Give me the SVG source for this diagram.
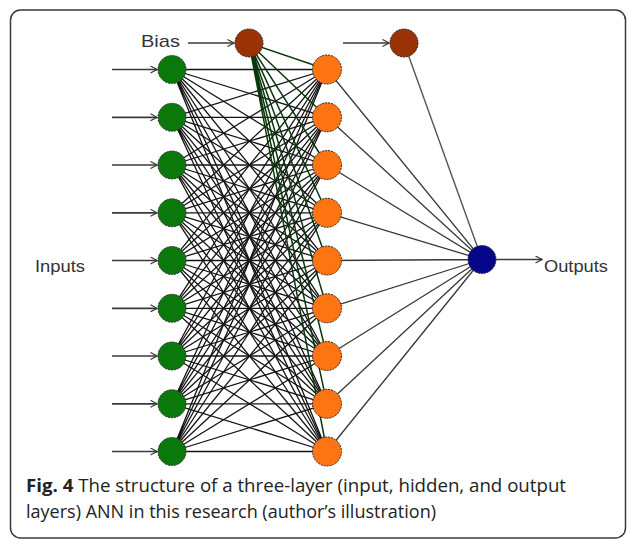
<svg xmlns="http://www.w3.org/2000/svg" width="627" height="539" viewBox="0 0 627 539">
<style>
.frame{fill:#fff;stroke:#3a3a3a;stroke-width:1.5}
.w{fill:none;stroke:#141414;stroke-width:1.3}
.wb{fill:none;stroke:#0a380c;stroke-width:1.5}
.wo{fill:none;stroke:#383838;stroke-width:1.3}
.wb2{fill:none;stroke:#4b5d4b;stroke-width:1.4}
.arr{fill:none;stroke:#3a3a3a;stroke-width:1.7;marker-end:url(#ah)}
.n{stroke:#2a2a2a;stroke-width:1;stroke-dasharray:2 1}
.in{fill:#0b780b}
.hid{fill:#ff7412}
.bias{fill:#9a3206}
.out{fill:#06068a}
.lbl{font-family:"Liberation Sans",Arial,sans-serif;font-size:17px;fill:#333}
.cap{font-family:"Open Sans","Noto Sans",sans-serif;font-size:18px;fill:#222}
</style>
<defs>
<marker id="ah" viewBox="0 0 8 8" refX="7" refY="4" markerWidth="8" markerHeight="8" markerUnits="userSpaceOnUse" orient="auto">
<path d="M0.5,0.5 L7,4 L0.5,7.5" fill="none" stroke="#3a3a3a" stroke-width="1.2"/>
</marker>
</defs>
<rect class="frame" x="10.5" y="10" width="615" height="528" rx="10"/>
<g id="connectors">
<path class="w" d="M172,69.5L327,69.5M172,69.5L327,117.3M172,69.5L327,165M172,69.5L327,212.8M172,69.5L327,260.5M172,69.5L327,308.3M172,69.5L327,356M172,69.5L327,403.8M172,69.5L327,451.5"/>
<path class="w" d="M172,117.3L327,69.5M172,117.3L327,117.3M172,117.3L327,165M172,117.3L327,212.8M172,117.3L327,260.5M172,117.3L327,308.3M172,117.3L327,356M172,117.3L327,403.8M172,117.3L327,451.5"/>
<path class="w" d="M172,165L327,69.5M172,165L327,117.3M172,165L327,165M172,165L327,212.8M172,165L327,260.5M172,165L327,308.3M172,165L327,356M172,165L327,403.8M172,165L327,451.5"/>
<path class="w" d="M172,212.8L327,69.5M172,212.8L327,117.3M172,212.8L327,165M172,212.8L327,212.8M172,212.8L327,260.5M172,212.8L327,308.3M172,212.8L327,356M172,212.8L327,403.8M172,212.8L327,451.5"/>
<path class="w" d="M172,260.5L327,69.5M172,260.5L327,117.3M172,260.5L327,165M172,260.5L327,212.8M172,260.5L327,260.5M172,260.5L327,308.3M172,260.5L327,356M172,260.5L327,403.8M172,260.5L327,451.5"/>
<path class="w" d="M172,308.3L327,69.5M172,308.3L327,117.3M172,308.3L327,165M172,308.3L327,212.8M172,308.3L327,260.5M172,308.3L327,308.3M172,308.3L327,356M172,308.3L327,403.8M172,308.3L327,451.5"/>
<path class="w" d="M172,356L327,69.5M172,356L327,117.3M172,356L327,165M172,356L327,212.8M172,356L327,260.5M172,356L327,308.3M172,356L327,356M172,356L327,403.8M172,356L327,451.5"/>
<path class="w" d="M172,403.8L327,69.5M172,403.8L327,117.3M172,403.8L327,165M172,403.8L327,212.8M172,403.8L327,260.5M172,403.8L327,308.3M172,403.8L327,356M172,403.8L327,403.8M172,403.8L327,451.5"/>
<path class="w" d="M172,451.5L327,69.5M172,451.5L327,117.3M172,451.5L327,165M172,451.5L327,212.8M172,451.5L327,260.5M172,451.5L327,308.3M172,451.5L327,356M172,451.5L327,403.8M172,451.5L327,451.5"/>
<path class="wb" d="M249,43L327,69.5M249,43L327,117.3M249,43L327,165M249,43L327,212.8M249,43L327,260.5M249,43L327,308.3M249,43L327,356M249,43L327,403.8M249,43L327,451.5"/>
<path class="wo" d="M327,69.5L482,259.5M327,117.3L482,259.5M327,165L482,259.5M327,212.8L482,259.5M327,260.5L482,259.5M327,308.3L482,259.5M327,356L482,259.5M327,403.8L482,259.5M327,451.5L482,259.5"/>
<path class="wb2" d="M404,43L482,259.5"/>
<line class="arr" x1="188" y1="43" x2="234" y2="43"/>
<line class="arr" x1="343" y1="43" x2="389" y2="43"/>
<line class="arr" x1="496" y1="259.5" x2="542" y2="259.5"/>
<line class="arr" x1="112" y1="69.5" x2="157" y2="69.5"/>
<line class="arr" x1="112" y1="117.3" x2="157" y2="117.3"/>
<line class="arr" x1="112" y1="165" x2="157" y2="165"/>
<line class="arr" x1="112" y1="212.8" x2="157" y2="212.8"/>
<line class="arr" x1="112" y1="260.5" x2="157" y2="260.5"/>
<line class="arr" x1="112" y1="308.3" x2="157" y2="308.3"/>
<line class="arr" x1="112" y1="356" x2="157" y2="356"/>
<line class="arr" x1="112" y1="403.8" x2="157" y2="403.8"/>
<line class="arr" x1="112" y1="451.5" x2="157" y2="451.5"/>
</g>
<g id="bias1"><circle class="n bias" cx="249" cy="43" r="14"/></g>
<g id="bias2"><circle class="n bias" cx="404" cy="43" r="14"/></g>
<g id="in1"><circle class="n in" cx="172" cy="69.5" r="14"/></g>
<g id="in2"><circle class="n in" cx="172" cy="117.3" r="14"/></g>
<g id="in3"><circle class="n in" cx="172" cy="165" r="14"/></g>
<g id="in4"><circle class="n in" cx="172" cy="212.8" r="14"/></g>
<g id="in5"><circle class="n in" cx="172" cy="260.5" r="14"/></g>
<g id="in6"><circle class="n in" cx="172" cy="308.3" r="14"/></g>
<g id="in7"><circle class="n in" cx="172" cy="356" r="14"/></g>
<g id="in8"><circle class="n in" cx="172" cy="403.8" r="14"/></g>
<g id="in9"><circle class="n in" cx="172" cy="451.5" r="14"/></g>
<g id="h1"><circle class="n hid" cx="327" cy="69.5" r="14.5"/></g>
<g id="h2"><circle class="n hid" cx="327" cy="117.3" r="14.5"/></g>
<g id="h3"><circle class="n hid" cx="327" cy="165" r="14.5"/></g>
<g id="h4"><circle class="n hid" cx="327" cy="212.8" r="14.5"/></g>
<g id="h5"><circle class="n hid" cx="327" cy="260.5" r="14.5"/></g>
<g id="h6"><circle class="n hid" cx="327" cy="308.3" r="14.5"/></g>
<g id="h7"><circle class="n hid" cx="327" cy="356" r="14.5"/></g>
<g id="h8"><circle class="n hid" cx="327" cy="403.8" r="14.5"/></g>
<g id="h9"><circle class="n hid" cx="327" cy="451.5" r="14.5"/></g>
<g id="output"><circle class="n out" cx="482" cy="259.5" r="14"/></g>
<g id="labels">
<text class="lbl" x="141" y="47" textLength="39" lengthAdjust="spacingAndGlyphs">Bias</text>
<text class="lbl" x="35" y="272" textLength="50" lengthAdjust="spacingAndGlyphs">Inputs</text>
<text class="lbl" x="544" y="272" textLength="64" lengthAdjust="spacingAndGlyphs">Outputs</text>
</g>
<g id="caption">
<text class="cap" x="26" y="492" textLength="540" lengthAdjust="spacingAndGlyphs"><tspan font-weight="bold">Fig. 4</tspan> The structure of a three-layer (input, hidden, and output</text>
<text class="cap" x="26" y="518" textLength="410" lengthAdjust="spacingAndGlyphs">layers) ANN in this research (author’s illustration)</text>
</g>
</svg>
